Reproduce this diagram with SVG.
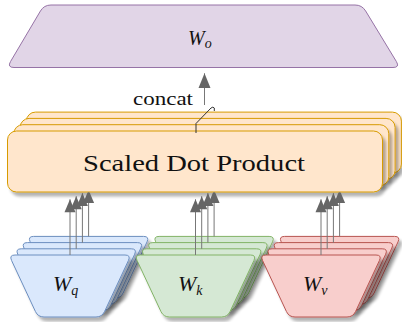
<svg xmlns="http://www.w3.org/2000/svg" xmlns:xlink="http://www.w3.org/1999/xlink" width="402" height="322" viewBox="0 0 402 322">
<style>
.t{font-family:'Liberation Serif','DejaVu Serif','Noto Serif','Times New Roman',Times,'Nimbus Roman',serif;fill:#111}
.it{font-style:italic}
.box{fill:#ffe6cc;stroke:#d79b00;stroke-width:1;filter:url(#sh)}
.q{fill:#dae8fc;stroke:#6c8ebf;stroke-width:1;filter:url(#sh)}
.k{fill:#d5e8d4;stroke:#82b366;stroke-width:1;filter:url(#sh)}
.v{fill:#f8cecc;stroke:#b85450;stroke-width:1;filter:url(#sh)}
.arr{stroke:#777;stroke-width:1;fill:none;marker-end:url(#ah)}
</style>
<defs>
<filter id="sh" x="-10%" y="-10%" width="130%" height="140%">
<feGaussianBlur in="SourceAlpha" stdDeviation="1.5"/>
<feOffset dx="3" dy="4"/>
<feComponentTransfer><feFuncA type="linear" slope="0.3"/></feComponentTransfer>
<feMerge><feMergeNode/><feMergeNode in="SourceGraphic"/></feMerge>
</filter>
<path id="trap" d="M6,0 H116 Q122,0 119.45,5.44 L95.55,56.56 Q93,62 87,62 H35 Q29,62 26.45,56.56 L2.55,5.44 Q0,0 6,0 Z"/>
<marker id="ah" markerUnits="userSpaceOnUse" markerWidth="14" markerHeight="12" refX="13" refY="5.5" orient="auto" overflow="visible">
<path d="M0,0 L13,5.5 L0,11 Z" fill="#666"/>
</marker>
<marker id="ah2" markerUnits="userSpaceOnUse" markerWidth="16" markerHeight="13" refX="14.7" refY="6" orient="auto" overflow="visible">
<path d="M0,0 L14.7,6 L0,12 Z" fill="#666"/>
</marker>
<clipPath id="below"><rect x="0" y="192.5" width="402" height="130"/></clipPath>
</defs>

<g id="Wo">
<path d="M51,5 H355 Q362,5 365.64,10.98 L396.36,61.52 Q400,67.5 393,67.5 H14 Q7,67.5 10.57,61.47 L40.43,11.03 Q44,5 51,5 Z" fill="#e1d5e7" stroke="#9673a6" stroke-width="1"/>
<text class="t it" x="188" y="45" font-size="20">W<tspan font-size="14" dy="3">o</tspan></text>
</g>

<g id="Wq">
<use xlink:href="#trap" class="q" transform="translate(27.6,236.4)"/>
<use xlink:href="#trap" class="q" transform="translate(21.4,242.6)"/>
<use xlink:href="#trap" class="q" transform="translate(15.2,248.8)"/>
<use xlink:href="#trap" class="q" transform="translate(9,255)"/>
<text class="t it" x="53" y="291" font-size="22">W<tspan font-size="14" dy="4">q</tspan></text>
</g>

<g id="Wk">
<use xlink:href="#trap" class="k" transform="translate(153.1,236.4)"/>
<use xlink:href="#trap" class="k" transform="translate(146.9,242.6)"/>
<use xlink:href="#trap" class="k" transform="translate(140.7,248.8)"/>
<use xlink:href="#trap" class="k" transform="translate(134.5,255)"/>
<text class="t it" x="178" y="291" font-size="22">W<tspan font-size="14" dy="4">k</tspan></text>
</g>

<g id="Wv">
<use xlink:href="#trap" class="v" transform="translate(278.6,236.4)"/>
<use xlink:href="#trap" class="v" transform="translate(272.4,242.6)"/>
<use xlink:href="#trap" class="v" transform="translate(266.2,248.8)"/>
<use xlink:href="#trap" class="v" transform="translate(260,255)"/>
<text class="t it" x="303" y="291" font-size="22">W<tspan font-size="14" dy="4">v</tspan></text>
</g>

<g id="sdp">
<rect class="box" x="26.4" y="112.1" width="375" height="61" rx="9"/>
<rect class="box" x="20.1" y="118.4" width="375" height="61" rx="9"/>
<rect class="box" x="13.8" y="124.7" width="375" height="61" rx="9"/>
<rect class="box" x="7.5" y="131" width="375" height="61" rx="9"/>
<text class="t" x="83" y="171" font-size="24" textLength="222" lengthAdjust="spacingAndGlyphs">Scaled Dot Product</text>
</g>

<g id="connectors">
<g clip-path="url(#below)">
<line class="arr" x1="88.6" y1="236.4" x2="88.6" y2="190"/>
<line class="arr" x1="82.4" y1="242.6" x2="82.4" y2="193.1"/>
<line class="arr" x1="76.2" y1="248.8" x2="76.2" y2="196.2"/>
<line class="arr" x1="70" y1="255" x2="70" y2="199.3"/>
<line class="arr" x1="214.1" y1="236.4" x2="214.1" y2="190"/>
<line class="arr" x1="207.9" y1="242.6" x2="207.9" y2="193.1"/>
<line class="arr" x1="201.7" y1="248.8" x2="201.7" y2="196.2"/>
<line class="arr" x1="195.5" y1="255" x2="195.5" y2="199.3"/>
<line class="arr" x1="339.6" y1="236.4" x2="339.6" y2="190"/>
<line class="arr" x1="333.4" y1="242.6" x2="333.4" y2="193.1"/>
<line class="arr" x1="327.2" y1="248.8" x2="327.2" y2="196.2"/>
<line class="arr" x1="321" y1="255" x2="321" y2="199.3"/>
</g>
<line x1="204.5" y1="105" x2="204.5" y2="73.3" stroke="#777" stroke-width="1" marker-end="url(#ah2)"/>
<path d="M196,133 V123.5 L211,108 Q213,106.3 214.3,108 V111" fill="none" stroke="#333" stroke-width="1"/>
<text class="t" x="133" y="105" font-size="19" textLength="60" lengthAdjust="spacingAndGlyphs">concat</text>
</g>
</svg>
